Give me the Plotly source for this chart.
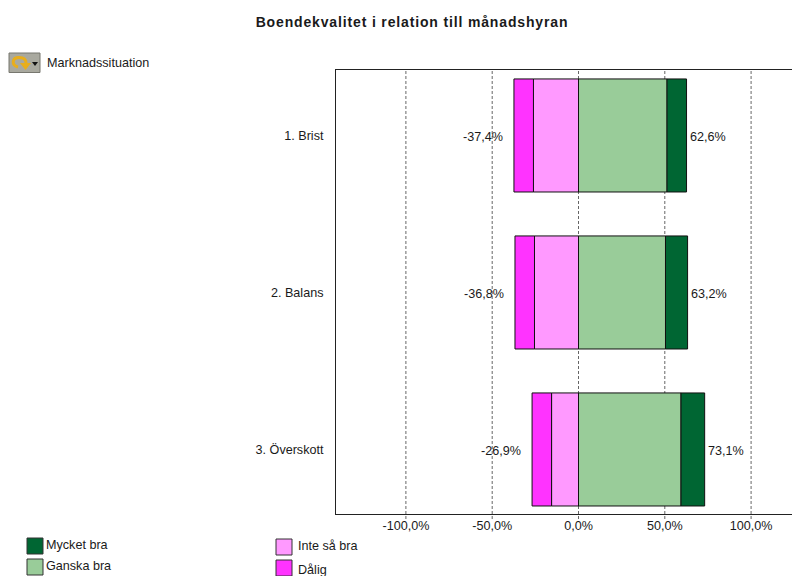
import plotly.graph_objects as go

categories = ["1. Brist", "2. Balans", "3. Överskott"]
inte_sa_bra = [-26.1, -25.5, -15.6]
dalig = [-11.3, -11.3, -11.3]
ganska_bra = [51.3, 50.4, 59.4]
mycket_bra = [11.3, 12.8, 13.7]
neg_totals = [-37.4, -36.8, -26.9]
pos_totals = [62.6, 63.2, 73.1]
neg_labels = ["-37,4%", "-36,8%", "-26,9%"]
pos_labels = ["62,6%", "63,2%", "73,1%"]
tick_values = [-100, -50, 0, 50, 100]
tick_labels = ["-100,0%", "-50,0%", "0,0%", "50,0%", "100,0%"]

W, H = 792, 576
LEFT, RIGHT, TOP, BOTTOM = 336, 792, 70, 514
FONT = "Liberation Sans"
SIZE = 12.6
TEXT = "#1a1a1a"
EDGE = "#111111"


def px(v):
    # page pixel to paper fraction, which is measured on the plot area
    return (v - LEFT) / (RIGHT - LEFT)


def py(v):
    return (BOTTOM - v) / (BOTTOM - TOP)


fig = go.Figure()

series = [
    ("Inte så bra", inte_sa_bra, "#ff99ff"),
    ("Dålig", dalig, "#ff33ff"),
    ("Ganska bra", ganska_bra, "#99cc99"),
    ("Mycket bra", mycket_bra, "#006633"),
]
for name, values, color in series:
    fig.add_trace(go.Bar(
        name=name, y=categories, x=values, orientation="h", width=0.72,
        marker=dict(color=color, line=dict(color=EDGE, width=1)),
        showlegend=False, hoverinfo="x+name",
    ))

annotations = []
for cat, value, label in zip(categories, neg_totals, neg_labels):
    annotations.append(dict(x=value, y=cat, text=label, xref="x", yref="y", showarrow=False,
                            xanchor="right", xshift=-9, yshift=-2,
                            font=dict(family=FONT, size=SIZE, color=TEXT)))
for cat, value, label in zip(categories, pos_totals, pos_labels):
    annotations.append(dict(x=value, y=cat, text=label, xref="x", yref="y", showarrow=False,
                            xanchor="left", xshift=1, yshift=-2,
                            font=dict(family=FONT, size=SIZE, color=TEXT)))

shapes = []
# dashed gridlines sit under the bars and run past the bottom axis as ticks
for value in tick_values:
    shapes.append(dict(type="line", xref="x", yref="paper", x0=value, x1=value,
                       y0=py(519), y1=py(70), layer="below",
                       line=dict(color="#666666", width=1, dash="3px,2px")))

# legend swatches and their captions, in two columns
legend_items = [
    ("Mycket bra", "#006633", 27, 546, 44, 545),
    ("Ganska bra", "#99cc99", 27, 567, 44, 566),
    ("Inte så bra", "#ff99ff", 276, 547, 296, 546),
    ("Dålig", "#ff33ff", 276, 568, 296, 570),
]
for text, color, sx, sy, tx, ty in legend_items:
    shapes.append(dict(type="rect", xref="paper", yref="paper",
                       x0=px(sx), x1=px(sx + 16), y0=py(sy - 8), y1=py(sy + 8),
                       fillcolor=color, line=dict(color="#333333", width=1)))
    annotations.append(dict(x=px(tx), y=py(ty), xref="paper", yref="paper", text=text, showarrow=False,
                            xanchor="left", yanchor="middle", font=dict(family=FONT, size=SIZE, color=TEXT)))

# dropdown button beside the dimension name
shapes.append(dict(type="rect", xref="paper", yref="paper", x0=px(9), x1=px(40), y0=py(53), y1=py(72.5),
                   fillcolor="#a9a99f", line=dict(color="#77776f", width=1)))
shapes.append(dict(type="path", xref="paper", yref="paper",
                   path=(f"M {px(18)} {py(67)} C {px(11)} {py(65)}, {px(12)} {py(57.5)}, {px(19)} {py(57.5)} "
                         f"C {px(24)} {py(57.5)}, {px(26)} {py(60)}, {px(26)} {py(63)}"),
                   fillcolor="rgba(0,0,0,0)", line=dict(color="#e8ae1c", width=3)))
shapes.append(dict(type="path", xref="paper", yref="paper",
                   path=f"M {px(20)} {py(63)} L {px(31)} {py(63)} L {px(25.5)} {py(70)} Z",
                   fillcolor="#e8ae1c", line=dict(width=0)))
shapes.append(dict(type="path", xref="paper", yref="paper",
                   path=f"M {px(32)} {py(62)} L {px(38)} {py(62)} L {px(35)} {py(66)} Z",
                   fillcolor="#111111", line=dict(width=0)))
annotations.append(dict(x=px(45), y=py(63), xref="paper", yref="paper", text="Marknadssituation",
                        showarrow=False, xanchor="left", yanchor="middle",
                        font=dict(family=FONT, size=SIZE, color=TEXT)))

fig.update_layout(
    width=W, height=H,
    margin=dict(l=LEFT, r=W - RIGHT, t=TOP, b=H - BOTTOM),
    paper_bgcolor="white", plot_bgcolor="white",
    barmode="relative", bargap=0.28,
    showlegend=False,
    font=dict(family=FONT, size=SIZE, color=TEXT),
    title=dict(text='<b><span style="letter-spacing:0.85px">Boendekvalitet i relation till månadshyran</span></b>',
               x=412 / W, xanchor="center", y=1 - 22 / H, yanchor="middle",
               font=dict(family=FONT, size=14, color=TEXT)),
    xaxis=dict(range=[-140.5, 123.7], tickvals=tick_values, ticktext=tick_labels,
               showgrid=False, zeroline=False, showline=True, mirror=True,
               linecolor="#222222", linewidth=1, ticks=""),
    yaxis=dict(categoryorder="array", categoryarray=categories, range=[2.411, -0.417],
               showgrid=False, zeroline=False, showline=True, mirror=False,
               linecolor="#222222", linewidth=1, ticks="", ticklabelstandoff=9),
    shapes=shapes,
    annotations=annotations,
)

fig.write_html("out.html")
